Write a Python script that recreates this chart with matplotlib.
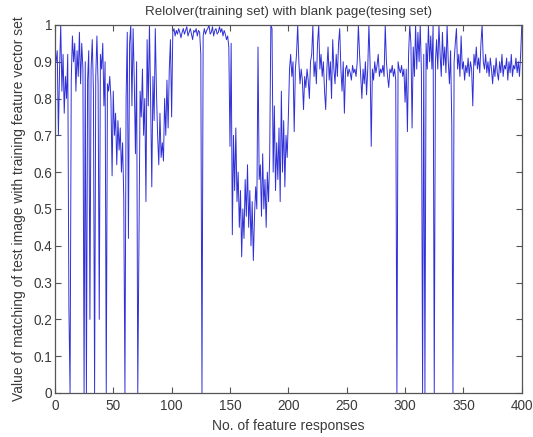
import numpy as np
import matplotlib
matplotlib.use('Agg')
import matplotlib.pyplot as plt

plt.rcParams['font.family'] = ['Liberation Sans', 'DejaVu Sans']

# matching value for each feature response (x = 1..400)
match_1_100 = [
    0.90, 0.93, 0.70, 0.88, 1.00, 0.82, 0.92, 0.76, 0.86, 0.80,
    0.92, 0.23, 0.00, 0.85, 0.97, 0.90, 0.95, 0.82, 0.93, 0.86,
    0.98, 0.84, 0.95, 0.88, 0.00, 0.90, 0.00, 0.85, 0.93, 0.20,
    0.88, 0.96, 0.82, 0.00, 0.86, 0.97, 0.84, 0.20, 0.92, 0.88,
    0.95, 0.78, 0.90, 0.00, 0.84, 0.82, 0.86, 0.80, 0.59, 0.82,
    0.70, 0.76, 0.62, 0.74, 0.66, 0.72, 0.60, 0.68, 0.53, 0.00,
    0.80, 0.98, 0.42, 0.95, 1.00, 0.78, 0.99, 0.85, 0.65, 0.90,
    0.00, 0.40, 0.82, 0.75, 0.88, 0.70, 0.80, 0.52, 0.96, 0.78,
    1.00, 0.80, 0.56, 0.86, 0.74, 0.99, 0.82, 0.70, 0.62, 0.76,
    0.64, 0.68, 0.63, 0.80, 0.70, 0.85, 0.72, 0.88, 0.96, 0.75,
]
match_101_200 = [
    0.98, 0.99, 0.97, 0.985, 0.975, 0.99, 0.98, 0.965, 0.98, 0.99,
    0.975, 0.985, 0.995, 0.97, 0.98, 0.99, 0.975, 0.96, 0.985, 0.98,
    0.99, 0.97, 0.985, 0.98, 0.92, 0.00, 0.97, 0.99, 0.975, 0.985,
    0.99, 1.00, 0.975, 0.98, 0.995, 0.97, 0.985, 0.99, 0.975, 0.98,
    0.995, 0.98, 0.99, 0.97, 0.985, 0.975, 0.96, 0.97, 0.94, 0.67,
    0.95, 0.43, 0.70, 0.55, 0.72, 0.52, 0.60, 0.45, 0.55, 0.37,
    0.50, 0.42, 0.58, 0.48, 0.62, 0.45, 0.55, 0.40, 0.52, 0.36,
    0.48, 0.56, 0.50, 0.94, 0.58, 0.62, 0.48, 0.65, 0.50, 0.58,
    0.45, 0.60, 0.52, 0.64, 1.00, 0.99, 0.60, 0.78, 0.55, 0.68,
    0.58, 0.72, 0.52, 0.82, 0.60, 0.74, 0.56, 0.70, 0.64, 0.75,
]
match_201_300 = [
    0.88, 0.92, 0.86, 0.90, 0.71, 0.88, 0.92, 1.00, 0.90, 0.84,
    0.88, 0.85, 0.77, 0.86, 0.83, 0.88, 0.85, 0.80, 0.90, 0.92,
    1.00, 0.86, 0.90, 0.84, 0.95, 1.00, 0.88, 0.92, 0.86, 0.90,
    0.82, 0.77, 0.88, 0.94, 0.85, 0.90, 0.80, 0.96, 0.88, 0.84,
    0.92, 0.86, 0.95, 0.99, 0.88, 0.82, 0.90, 0.76, 0.88, 0.89,
    0.86, 0.88, 0.87, 0.85, 0.89, 0.87, 0.88, 0.86, 0.90, 1.00,
    0.92, 0.86, 0.80, 0.88, 0.84, 0.90, 0.81, 0.88, 1.00, 0.90,
    0.67, 0.88, 0.85, 0.90, 0.87, 0.89, 0.92, 0.86, 0.88, 0.87,
    0.89, 0.86, 1.00, 0.90, 0.86, 0.83, 0.88, 0.87, 0.89, 0.86,
    0.88, 0.85, 0.00, 0.90, 0.88, 0.87, 0.89, 0.86, 0.88, 0.79,
]
match_301_400 = [
    0.88, 0.71, 0.92, 1.00, 0.95, 0.72, 0.94, 0.86, 1.00, 0.88,
    0.98, 0.90, 1.00, 0.87, 0.00, 0.92, 0.00, 0.95, 0.88, 1.00,
    0.90, 0.97, 0.88, 1.00, 0.00, 0.90, 0.96, 0.88, 1.00, 0.92,
    0.86, 0.98, 0.89, 0.94, 0.87, 1.00, 0.90, 0.84, 0.93, 0.73,
    0.00, 0.90, 0.95, 0.99, 0.88, 0.92, 0.86, 0.97, 0.88, 0.90,
    0.85, 0.89, 0.87, 0.91, 0.86, 0.90, 0.88, 0.78, 0.92, 0.89,
    0.94, 0.88, 0.91, 0.87, 0.95, 1.00, 0.90, 0.88, 0.92, 0.87,
    0.90, 0.86, 0.91, 0.88, 0.84, 0.89, 0.86, 0.91, 0.87, 0.85,
    0.90, 0.87, 0.92, 0.86, 0.89, 0.88, 0.91, 0.85, 0.90, 0.87,
    0.92, 0.86, 0.89, 0.88, 0.91, 0.87, 0.90, 0.86, 0.92, 1.00,
]

matching = match_1_100 + match_101_200 + match_201_300 + match_301_400
responses = np.arange(1, len(matching) + 1)

x_ticks = [0, 50, 100, 150, 200, 250, 300, 350, 400]
y_ticks = [0, 0.1, 0.2, 0.3, 0.4, 0.5, 0.6, 0.7, 0.8, 0.9, 1]
y_labels = ['0', '0.1', '0.2', '0.3', '0.4', '0.5', '0.6', '0.7', '0.8', '0.9', '1']

fig = plt.figure(figsize=(5.33, 4.37), dpi=100)
ax = fig.add_axes([0.103, 0.1007, 0.876, 0.8423])

ax.plot(responses, matching, color='#3030d8', linewidth=0.7)

ax.set_xlim(0, 400)
ax.set_ylim(0, 1)
ax.set_xticks(x_ticks)
ax.set_yticks(y_ticks)
ax.set_yticklabels(y_labels)

txt = '#3a3a3a'
ax.tick_params(direction='in', top=True, right=True, length=4, width=0.8,
               colors='#555555', labelcolor=txt, labelsize=9.8, pad=2)
ax.tick_params(axis='x', pad=4)
for s in ax.spines.values():
    s.set_color('#555555')
    s.set_linewidth(0.9)

ax.set_title('Relolver(training set) with blank page(tesing set)', fontsize=9.6, color=txt, pad=7)
ax.set_xlabel('No. of feature responses', fontsize=10, color=txt, labelpad=5)
ax.set_ylabel('Value of matching of test image with training feature vector set', fontsize=10, color=txt, labelpad=5)

fig.savefig('out.png', dpi=100)
